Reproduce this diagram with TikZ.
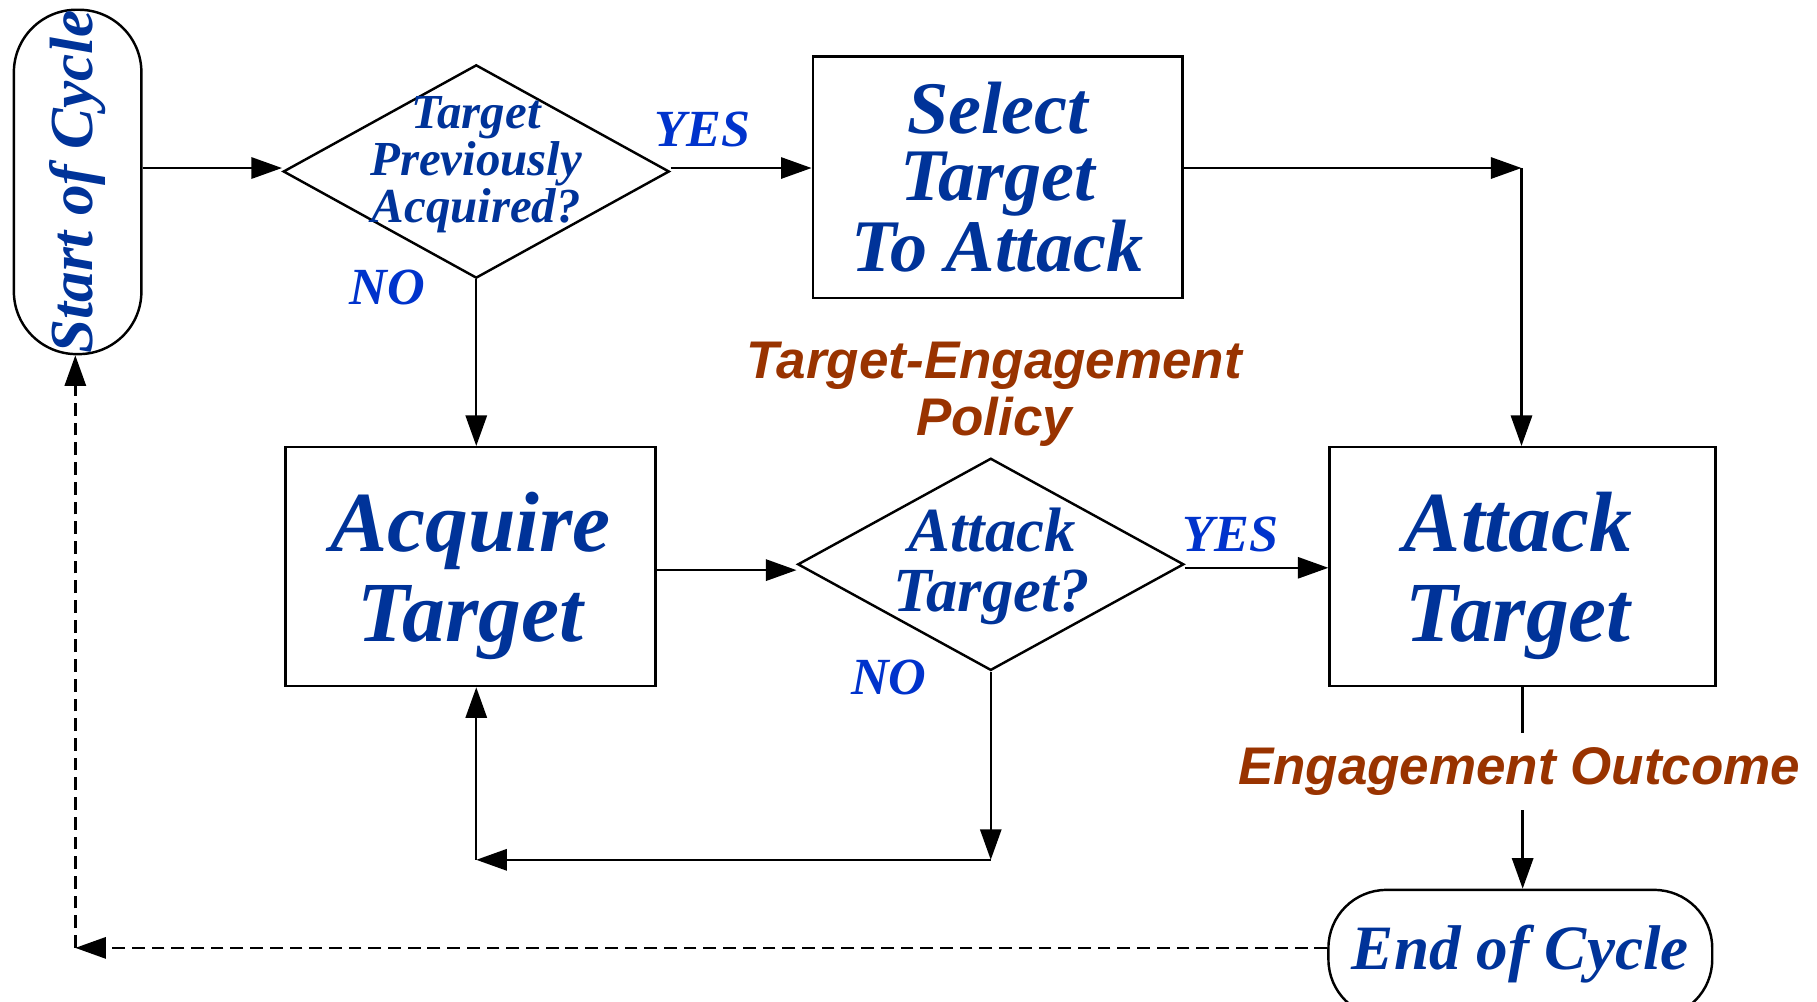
\documentclass[tikz,border=0pt]{standalone}
\usepackage{fontspec}
\setmainfont{Liberation Serif}
\newfontfamily\flowsans{Liberation Sans}
\usepackage{tikz}
\usetikzlibrary{arrows.meta,shapes.geometric}
\definecolor{nodeblue}{RGB}{0,51,153}
\definecolor{labelblue}{RGB}{0,51,204}
\definecolor{policybrown}{RGB}{153,51,0}
\newcommand{\fs}[2]{\fontsize{#1}{#2}\selectfont}
\tikzstyle{box}=[draw,rectangle,line width=0.6pt,inner sep=0pt]
\tikzstyle{decision}=[draw,diamond,line width=0.6pt,inner sep=0pt]
\tikzstyle{terminal}=[draw,rectangle,line width=0.6pt,inner sep=0pt,text=nodeblue]
\tikzstyle{question}=[align=center,text=nodeblue,inner sep=0pt]
\tikzstyle{yesno}=[text=labelblue,font=\fs{12.8}{14}\bfseries\itshape]
\tikzstyle{policy}=[align=center,text=policybrown,font=\flowsans\fs{13}{14}\bfseries\itshape]
\tikzstyle{flow}=[line width=0.6pt,-{Triangle[length=7.5pt,width=5.2pt]}]

\begin{document}
\begin{tikzpicture}[x=0.01cm,y=-0.01cm]
    \useasboundingbox (0,0) rectangle (1568,864);
    % terminals
    \node[terminal,rounded corners=0.54cm,minimum width=1.10cm,minimum height=2.97cm,
      font=\fs{15}{16}\bfseries\itshape] (start) at (67,157) {\rotatebox{90}{Start of Cycle}};
    \node[terminal,rounded corners=0.5cm,minimum width=3.31cm,minimum height=1.10cm,
      font=\fs{15.5}{16}\bfseries\itshape] (endc) at (1312,823) {End of Cycle};
    % decisions
    \node[decision,minimum width=3.33cm,minimum height=1.84cm] (d1) at (411,148) {};
    \node[question,font=\fs{12}{11.5}\bfseries\itshape] (d1t) at (411,142) {Target\\Previously\\Acquired?};
    \node[decision,minimum width=3.33cm,minimum height=1.83cm] (d2) at (855,487) {};
    \node[question,font=\fs{15.4}{14.8}\bfseries\itshape] (d2t) at (856,489) {Attack\\Target?};
    % boxes
    \node[box,minimum width=3.19cm,minimum height=2.08cm] (select) at (861,153) {};
    \node[question,font=\fs{18.2}{16.5}\bfseries\itshape] (selectt) at (861,153) {Select\\Target\\To Attack};
    \node[box,minimum width=3.19cm,minimum height=2.06cm] (acquire) at (406,489) {};
    \node[question,font=\fs{21}{22}\bfseries\itshape] (acquiret) at (406,497) {Acquire\\Target};
    \node[box,minimum width=3.33cm,minimum height=2.06cm] (attack) at (1314,489) {};
    \node[question,font=\fs{21}{22}\bfseries\itshape] (attackt) at (1310,497) {Attack\\Target};
    % labels
    \node[yesno] (yes1) at (606,112) {YES};
    \node[yesno] (no1) at (334,248) {NO};
    \node[yesno] (yes2) at (1062,461) {YES};
    \node[yesno] (no2) at (767,585) {NO};
    \node[policy] (tep) at (858,340) {Target-Engagement\\Policy};
    \node[policy,inner sep=0.12cm] (outcome) at (1311,666) {Engagement Outcome};
    % corners
    \coordinate (c1) at (1313,145);
    \coordinate (c2) at (855,742);
    \coordinate (c3) at (411,742);
    \coordinate (c4) at (65,818);
    % connectors
    \draw[flow] (start.east |- c1) -- (d1.west |- c1);
    \draw[flow] (d1.east |- c1) -- (select.west |- c1);
    \draw[flow] (select.east |- c1) -- (c1);
    \draw[flow] (c1) -- (c1 |- attack.north);
    \draw[flow] (d1.south) -- (d1.south |- acquire.north);
    \draw[flow] ([yshift=-0.03cm]acquire.east) -- ([yshift=-0.03cm]acquire.east -| d2.west);
    \draw[flow] ([yshift=-0.03cm]d2.east) -- ([yshift=-0.03cm]d2.east -| attack.west);
    \draw[flow] (d2.south) -- (c2);
    \draw[flow] (c2) -- (c3);
    \draw[flow] (c3) -- (c3 |- acquire.south);
    \draw[line width=0.6pt] (attack.south) -- (attack.south |- outcome.north);
    \draw[flow] (attack.south |- outcome.south) -- (attack.south |- endc.north);
    \draw[flow,dash pattern=on 0.11cm off 0.06cm] (endc.west |- c4) -- (c4);
    \draw[flow,dash pattern=on 0.11cm off 0.06cm] (c4) -- (c4 |- start.south);
\end{tikzpicture}
\end{document}
